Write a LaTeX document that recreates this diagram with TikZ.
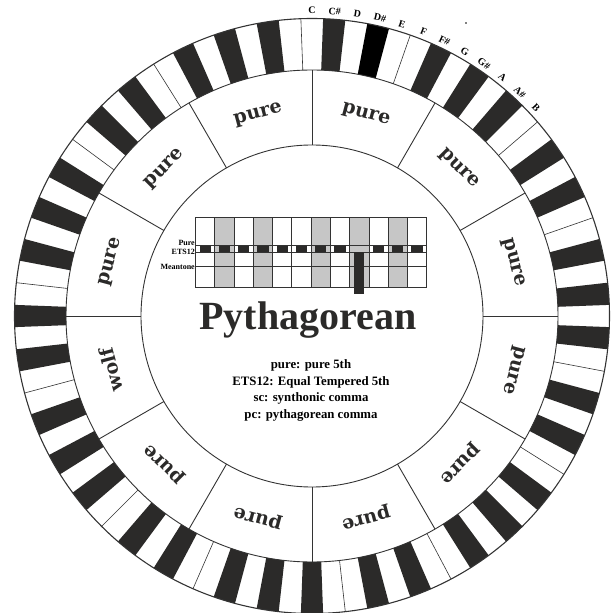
\documentclass[tikz,border=0pt]{standalone}
\usepackage{fontspec}
\setmainfont{Liberation Serif}
\newfontfamily\ringfont{DejaVu Serif}
\usepackage{xcolor}
\usetikzlibrary{calc}

\definecolor{keyblack}{HTML}{2B2A29}
\definecolor{gridgray}{HTML}{C6C6C6}
\definecolor{linegray}{HTML}{333333}

\begin{document}
\begin{tikzpicture}[x=1pt, y=1pt,
  ringline/.style={draw=linegray, line width=0.9pt},
  gridline/.style={draw=linegray, line width=0.9pt},
  sectorlabel/.style={font=\ringfont\bfseries\fontsize{19}{19}\selectfont, text=keyblack, inner sep=0pt},
  keylabel/.style={font=\bfseries\fontsize{10}{10}\selectfont, inner sep=0pt},
  rowlabel/.style={font=\bfseries\fontsize{8}{8}\selectfont, inner sep=0pt, anchor=base east},
  legendtext/.style={font=\bfseries\fontsize{12.8}{16.7}\selectfont, align=center, inner sep=0pt},
  titletext/.style={font=\bfseries\fontsize{40}{40}\selectfont, text=keyblack, inner sep=0pt, anchor=base}]

  \useasboundingbox (-312,-297) rectangle (300,316);

  % Keyboard ring, 7 octaves, C on top
  \foreach \i in {0,...,83}{
    \pgfmathtruncatemacro{\n}{mod(\i,12)}
    \pgfmathtruncatemacro{\isblack}{(\n==1)+(\n==3)+(\n==6)+(\n==8)+(\n==10)}
    \pgfmathsetmacro{\aa}{90-\i*30/7+15/7}
    \pgfmathsetmacro{\ab}{90-\i*30/7-15/7}
    \ifnum\isblack=1
      \ifnum\i=3 \def\kc{black}\else\def\kc{keyblack}\fi
      \fill[\kc] (\aa:246) arc[start angle=\aa, end angle=\ab, radius=246pt]
        -- (\ab:297.5) arc[start angle=\ab, end angle=\aa, radius=297.5pt] -- cycle;
    \fi
    \ifnum\n=4 \draw[ringline, line width=0.6pt] (\ab:246) -- (\ab:297.5); \fi
    \ifnum\n=11 \draw[ringline, line width=0.6pt] (\ab:246) -- (\ab:297.5); \fi
  }
  \draw[ringline, line width=1.1pt] (0,0) circle[radius=297.5pt];
  \draw[ringline] (0,0) circle[radius=246pt];
  \draw[ringline] (0,0) circle[radius=171pt];

  % Note names
  \foreach \i/\t in {0/C,1/C\#,2/D,3/D\#,4/E,5/F,6/F\#,7/G,8/G\#,9/A,10/A\#,11/B}
    \node[keylabel, rotate={-\i*30/7}] (k\i) at ({90-\i*30/7}:305.5) {\t};
  \fill (154,293) circle[radius=0.8];

  % Fifths ring
  \foreach \k in {0,...,11}
    \draw[ringline] ({90-30*\k}:171) -- ({90-30*\k}:246);
  \foreach \k/\t in {0/pure,1/pure,2/pure,3/pure,4/pure,5/pure,6/pure,7/pure,8/wolf,9/pure,10/pure,11/pure}
    \node[sectorlabel, rotate={-15-30*\k}] (s\k) at ({75-30*\k}:208) {\t};

  % Comparison grid
  \foreach \j in {1,3,6,8,10}
    \fill[gridgray] ({-116.3+\j*19.25},28.7) rectangle ++(19.25,70);
  \foreach \j in {0,...,7,9,10,11}
    \fill[keyblack] ({-116.3+\j*19.25+4},64.3) rectangle ++(11.25,6.5);
  \foreach \j in {1,...,11}
    \draw[gridline] ({-116.3+\j*19.25},28.7) -- ++(0,70);
  \foreach \y in {71,64,49.3}
    \draw[gridline] (-116.3,\y) -- (114.7,\y);
  \draw[gridline] (-116.3,28.7) rectangle (114.7,98.7);
  \fill[keyblack] (42,22) rectangle (52,64);

  \node[rowlabel] (pure) at (-117,70) {Pure};
  \node[rowlabel] (ets) at (-117,61) {ETS12};
  \node[rowlabel] (mean) at (-117,46.5) {Meantone};

  \node[titletext] (title) at (-4,-13) {Pythagorean};

  \node[legendtext] (legend) at (-1,-74.5)
    {pure: pure 5th\\ETS12: Equal Tempered 5th\\sc: synthonic comma\\pc: pythagorean comma};
\end{tikzpicture}
\end{document}
